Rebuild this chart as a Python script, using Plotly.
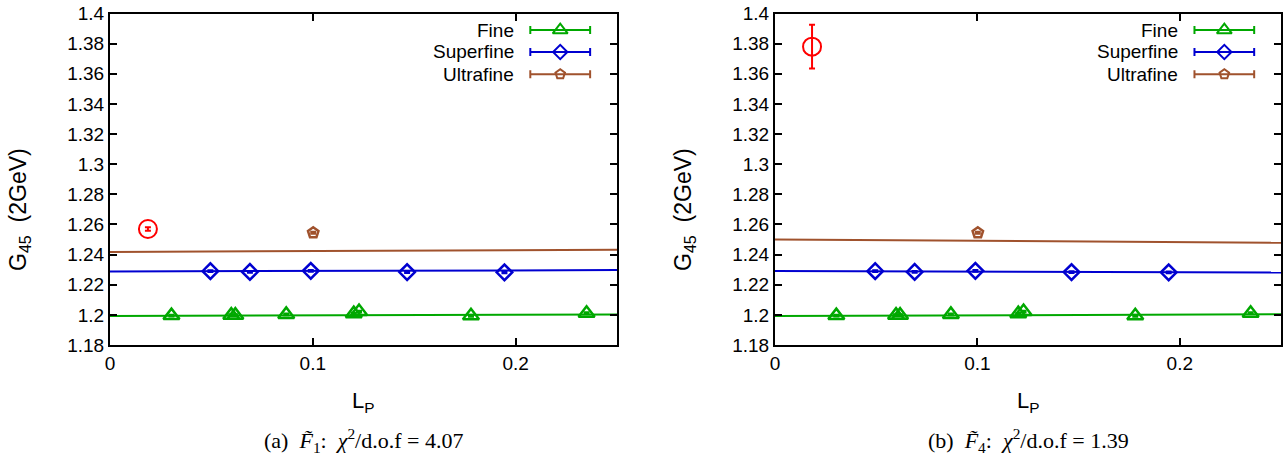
import plotly.graph_objects as go

# ---------------- data ----------------
fine_x = [0.0303, 0.0598, 0.0618, 0.0869, 0.1202, 0.1228, 0.1780, 0.2350]
fine_y = [1.1995, 1.1998, 1.1998, 1.2003, 1.2008, 1.2022, 1.1994, 1.2011]
fine_err = [0.0006, 0.0006, 0.0006, 0.0006, 0.0006, 0.0006, 0.0006, 0.0006]

superfine_x = [0.0495, 0.0690, 0.0990, 0.1465, 0.1945]
superfine_y = [1.2290, 1.2285, 1.2292, 1.2284, 1.2282]
superfine_err = [0.0006, 0.0006, 0.0006, 0.0006, 0.0006]

ultrafine_x = [0.1002]
ultrafine_y = [1.2545]
ultrafine_err = [0.0007]

cont_x_a = [0.0187]
cont_y_a = [1.2570]
cont_err_a = [0.0012]
cont_x_b = [0.0183]
cont_y_b = [1.3780]
cont_err_b = [0.0145]

fit_x = [0.0, 0.25]
fit_fine_a = [1.1993, 1.2003]
fit_superfine_a = [1.2288, 1.2297]
fit_ultrafine_a = [1.2418, 1.2432]
fit_fine_b = [1.1992, 1.2004]
fit_superfine_b = [1.2291, 1.2281]
fit_ultrafine_b = [1.2500, 1.2478]

series_names = ["Fine", "Superfine", "Ultrafine"]
x_ticks = [0, 0.1, 0.2]
x_ticktext = ["0", "0.1", "0.2"]
y_ticks = [1.18, 1.20, 1.22, 1.24, 1.26, 1.28, 1.30, 1.32, 1.34, 1.36, 1.38, 1.40]
y_ticktext = ["1.18", "1.2", "1.22", "1.24", "1.26", "1.28", "1.3", "1.32", "1.34", "1.36", "1.38", "1.4"]
captions = ["(a)  <i>F\u0303</i><sub>1</sub>:  <i>\u03c7</i><sup>2</sup>/d.o.f = 4.07",
            "(b)  <i>F\u0303</i><sub>4</sub>:  <i>\u03c7</i><sup>2</sup>/d.o.f = 1.39"]

# ---------------- style ----------------
GREEN = "#00a800"
BLUE = "#0000d0"
BROWN = "#a0522d"
RED = "#ff0000"
colors = [GREEN, BLUE, BROWN]
symbols = ["triangle-up-open", "diamond-open", "pentagon-open"]
sizes = [14, 12, 11]
FONT = "Liberation Sans, Arial, sans-serif"
SERIF = "Liberation Serif, DejaVu Serif, serif"

W, H = 1288, 462
y_dom = [1 - 345 / H, 1 - 13.5 / H]
x_dom_a = [110 / W, 617 / W]
x_dom_b = [775 / W, 1281 / W]

fig = go.Figure()


def add_panel(xa, ya, fits, cx, cy, cerr):
    fine_fit, sf_fit, uf_fit = fits
    for fy, c in zip([fine_fit, sf_fit, uf_fit], colors):
        fig.add_trace(go.Scatter(x=fit_x, y=fy, mode="lines", line=dict(color=c, width=2),
                                 xaxis=xa, yaxis=ya, showlegend=False, hoverinfo="skip"))
    for xs, ys, es, c, s, sz in zip([fine_x, superfine_x, ultrafine_x],
                                    [fine_y, superfine_y, ultrafine_y],
                                    [fine_err, superfine_err, ultrafine_err],
                                    colors, symbols, sizes):
        fig.add_trace(go.Scatter(x=xs, y=ys, mode="markers",
                                 marker=dict(symbol=s, size=sz, color=c, line=dict(color=c, width=2.5)),
                                 error_y=dict(type="data", array=es, color=c, thickness=2, width=3),
                                 xaxis=xa, yaxis=ya, showlegend=False))
    fig.add_trace(go.Scatter(x=cx, y=cy, mode="markers",
                             marker=dict(symbol="circle-open", size=18, color=RED, line=dict(color=RED, width=2)),
                             error_y=dict(type="data", array=cerr, color=RED, thickness=2, width=3),
                             xaxis=xa, yaxis=ya, showlegend=False))


add_panel("x", "y", (fit_fine_a, fit_superfine_a, fit_ultrafine_a), cont_x_a, cont_y_a, cont_err_a)
add_panel("x2", "y2", (fit_fine_b, fit_superfine_b, fit_ultrafine_b), cont_x_b, cont_y_b, cont_err_b)

# legend samples on overlay axes (domain fractions)
leg_rows = [0.950, 0.884, 0.817]
for xa, ya in [("x3", "y3"), ("x4", "y4")]:
    for r, c, s, sz in zip(leg_rows, colors, symbols, sizes):
        fig.add_trace(go.Scatter(x=[0.888], y=[r], mode="markers",
                                 marker=dict(symbol=s, size=sz - 1, color=c, line=dict(color=c, width=2)),
                                 error_x=dict(type="constant", value=0.059, color=c, thickness=2, width=4),
                                 xaxis=xa, yaxis=ya, showlegend=False, hoverinfo="skip"))

axis_common = dict(showline=True, linecolor="black", linewidth=2, mirror="ticks",
                   ticks="inside", ticklen=7, tickwidth=1.5, tickcolor="black",
                   showgrid=False, zeroline=False, automargin=False,
                   tickfont=dict(family=FONT, size=19, color="black"))

layout = dict(
    template="none",
    width=W, height=H, margin=dict(l=0, r=0, t=0, b=0, pad=0),
    paper_bgcolor="white", plot_bgcolor="white", showlegend=False,
    xaxis=dict(domain=x_dom_a, range=[0, 0.25], anchor="y", tickvals=x_ticks, ticktext=x_ticktext, **axis_common),
    yaxis=dict(domain=y_dom, range=[1.18, 1.40], anchor="x", tickvals=y_ticks, ticktext=y_ticktext, **axis_common),
    xaxis2=dict(domain=x_dom_b, range=[0, 0.25], anchor="y2", tickvals=x_ticks, ticktext=x_ticktext, **axis_common),
    yaxis2=dict(domain=y_dom, range=[1.18, 1.40], anchor="x2", tickvals=y_ticks, ticktext=y_ticktext, **axis_common),
    xaxis3=dict(domain=x_dom_a, range=[0, 1], anchor="y3", visible=False, overlaying="x", automargin=False),
    yaxis3=dict(domain=y_dom, range=[0, 1], anchor="x3", visible=False, overlaying="y", automargin=False),
    xaxis4=dict(domain=x_dom_b, range=[0, 1], anchor="y4", visible=False, overlaying="x2", automargin=False),
    yaxis4=dict(domain=y_dom, range=[0, 1], anchor="x4", visible=False, overlaying="y2", automargin=False),
)
fig.update_layout(**layout)

annotations = []
for xd, cap in [(x_dom_a, captions[0]), (x_dom_b, captions[1])]:
    cxp = (xd[0] + xd[1]) / 2
    # x title
    annotations.append(dict(x=cxp, y=1 - 402 / H, xref="paper", yref="paper", showarrow=False,
                            text="L<sub>P</sub>", font=dict(family=FONT, size=22, color="black"),
                            xanchor="center", yanchor="middle"))
    # caption
    annotations.append(dict(x=cxp, y=1 - 440 / H, xref="paper", yref="paper", showarrow=False,
                            text=cap, font=dict(family=SERIF, size=22, color="black"),
                            xanchor="center", yanchor="middle"))
    # y title
    annotations.append(dict(x=xd[0] - 91 / W, y=1 - 210 / H, xref="paper", yref="paper", showarrow=False,
                            text="G<sub>45</sub>  (2GeV)", textangle=-90,
                            font=dict(family=FONT, size=23, color="black"),
                            xanchor="center", yanchor="middle"))
for xref, yref in [("x3", "y3"), ("x4", "y4")]:
    for r, name in zip(leg_rows, series_names):
        annotations.append(dict(x=0.80, y=r, xref=xref, yref=yref, showarrow=False, text=name,
                                font=dict(family=FONT, size=19, color="black"),
                                xanchor="right", yanchor="middle"))
fig.update_layout(annotations=annotations)

fig.write_html("out.html")
